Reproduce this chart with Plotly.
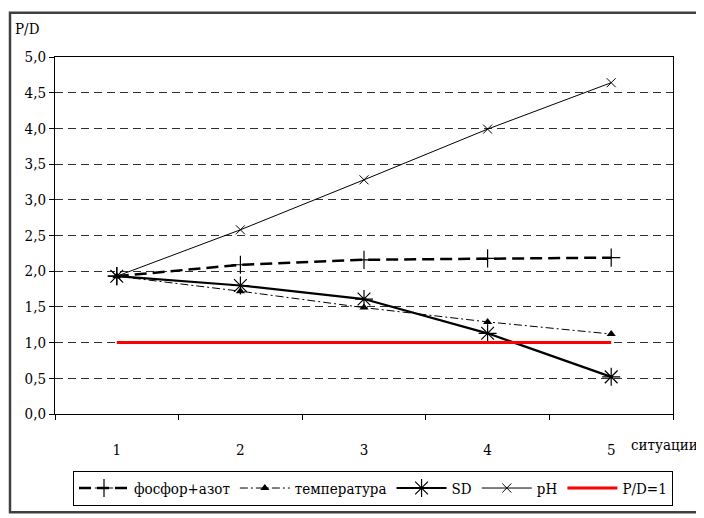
import plotly.graph_objects as go

categories = ["1", "2", "3", "4", "5"]
fosfor_azot = [1.93, 2.09, 2.16, 2.18, 2.19]
temperatura = [1.93, 1.72, 1.49, 1.29, 1.12]
sd = [1.93, 1.80, 1.61, 1.13, 0.52]
ph = [1.93, 2.58, 3.28, 3.99, 4.64]
pd_one = [1, 1, 1, 1, 1]
y_ticks = [0, 0.5, 1, 1.5, 2, 2.5, 3, 3.5, 4, 4.5, 5]
y_ticklabels = ["0,0", "0,5", "1,0", "1,5", "2,0", "2,5", "3,0", "3,5", "4,0", "4,5", "5,0"]

FONT = "DejaVu Serif Condensed, DejaVu Serif, serif"
FS = 15

# page has an 8px body margin; figure coords = page coords - 8
W, H = 696, 510
L, R, T, B = 47, 31, 49, 90
PW, PH = W - L - R, H - T - B


def px(xp):
    return (xp - 8 - L) / PW


def py(yp):
    return (H - B - (yp - 8)) / PH


fig = go.Figure()
fig.add_trace(go.Scatter(x=categories, y=fosfor_azot, name="фосфор+азот", mode="lines+markers",
                         line=dict(color="black", width=2.5, dash="12px,6px"),
                         marker=dict(symbol="cross-thin-open", size=13, line=dict(width=1.2, color="black"))))
fig.add_trace(go.Scatter(x=categories, y=temperatura, name="температура", mode="lines+markers",
                         line=dict(color="black", width=1, dash="8px,3px,2px,3px"),
                         marker=dict(symbol="triangle-up", size=8, color="black")))
fig.add_trace(go.Scatter(x=categories, y=sd, name="SD", mode="lines+markers",
                         line=dict(color="black", width=2.2),
                         marker=dict(symbol="asterisk-open", size=15, line=dict(width=1.2, color="black"))))
fig.add_trace(go.Scatter(x=categories, y=ph, name="pH", mode="lines+markers",
                         line=dict(color="black", width=1),
                         marker=dict(symbol="x-thin-open", size=9, line=dict(width=1, color="black"))))
fig.add_trace(go.Scatter(x=categories, y=pd_one, name="P/D=1", mode="lines",
                         line=dict(color="#ff0000", width=3)))

fig.update_layout(
    width=W, height=H,
    margin=dict(l=L, r=R, t=T, b=B),
    paper_bgcolor="white", plot_bgcolor="white",
    font=dict(family=FONT, size=FS, color="black"),
    showlegend=True,
    legend=dict(orientation="h", x=px(373), xanchor="center", y=py(487), yanchor="top",
                bordercolor="black", borderwidth=1, font=dict(family=FONT, size=FS),
                itemwidth=50, tracegroupgap=0),
    xaxis=dict(type="category", range=[-0.5, 4.5], tickson="boundaries", ticks="outside",
               ticklen=5, tickcolor="black", showline=True, linecolor="black", linewidth=1,
               mirror=True, showgrid=False, tickfont=dict(family=FONT, size=FS), ticklabelstandoff=22),
    yaxis=dict(range=[0, 5], tickvals=y_ticks, ticktext=y_ticklabels, ticks="outside", ticklen=5,
               tickcolor="black", showline=True, linecolor="black", linewidth=1, mirror=True,
               showgrid=True, gridcolor="#303030", gridwidth=1, griddash="8px,5px",
               zeroline=False, tickfont=dict(family=FONT, size=FS)),
    annotations=[
        dict(text="P/D", xref="paper", yref="paper", x=px(13), y=py(28),
             xanchor="left", yanchor="middle", showarrow=False, font=dict(family=FONT, size=FS)),
        dict(text="ситуации", xref="paper", yref="paper", x=px(700), y=py(460),
             xanchor="right", yanchor="middle", showarrow=False, font=dict(family=FONT, size=FS)),
    ],
    shapes=[
        dict(type="rect", xref="paper", yref="paper", x0=px(10), x1=px(701),
             y0=py(530), y1=py(11), line=dict(color="#404040", width=2.5),
             fillcolor="rgba(0,0,0,0)", layer="below"),
    ],
)

fig.write_html("out.html")
